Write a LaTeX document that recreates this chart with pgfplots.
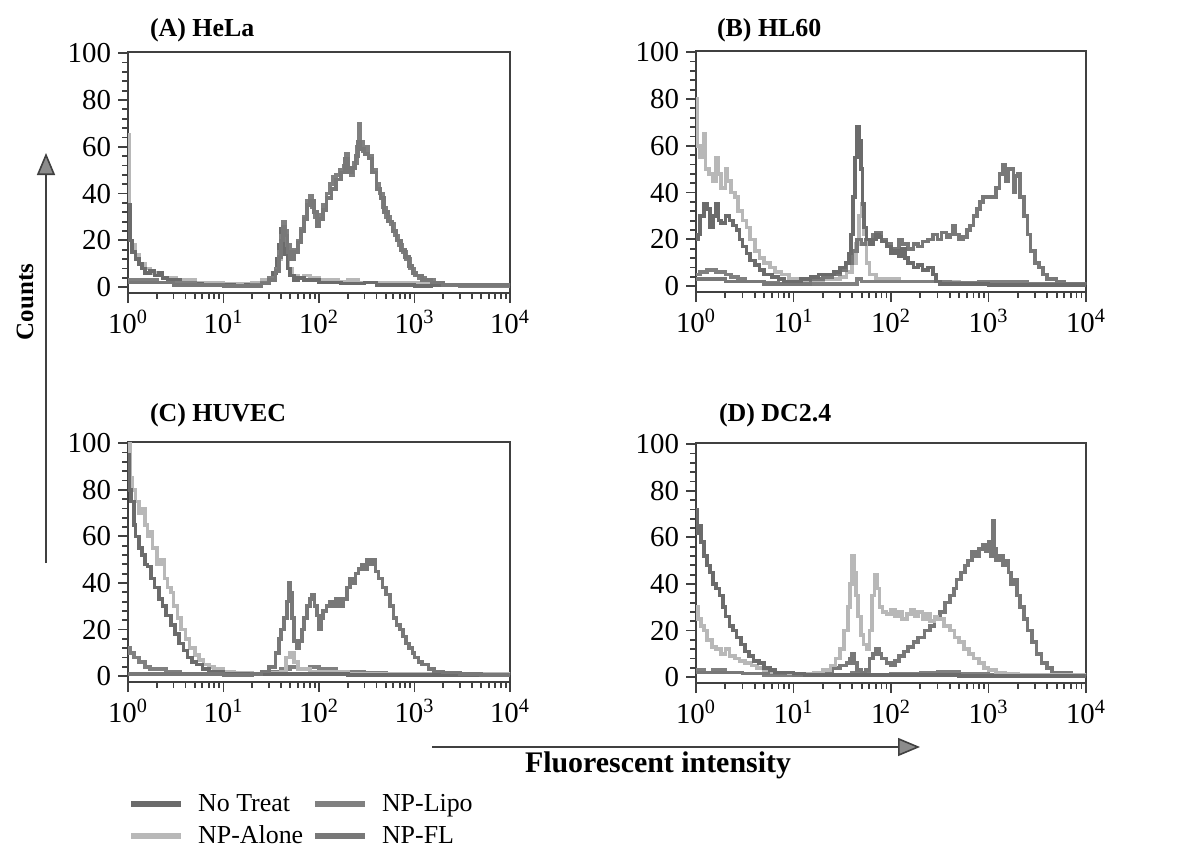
\documentclass[border=0pt]{standalone}
\usepackage{fontspec}
\setmainfont{Liberation Serif}
\usepackage{pgfplots}
\pgfplotsset{compat=1.18}
\usetikzlibrary{arrows.meta}

\definecolor{cNT}{gray}{0.42}
\definecolor{cAL}{gray}{0.72}
\definecolor{cLI}{gray}{0.50}
\definecolor{cFL}{gray}{0.47}
\definecolor{axc}{gray}{0.25}

\pgfplotsset{every axis/.append style={
    scale only axis,
    xmin=1, xmax=10000,
    ymin=-2.5, ymax=100.5,
    xtick={1,10,100,1000,10000},
    xticklabels={10\textsuperscript{0},10\textsuperscript{1},10\textsuperscript{2},10\textsuperscript{3},10\textsuperscript{4}},
    minor xtick={2,3,4,5,6,7,8,9,20,30,40,50,60,70,80,90,200,300,400,500,600,700,800,900,2000,3000,4000,5000,6000,7000,8000,9000},
    ytick={0,20,40,60,80,100},
    yticklabels={0,20,40,60,80,100},
    minor ytick={4,8,...,96},
    tick align=outside, xtick pos=bottom, ytick pos=left,
    major tick length=5bp, minor tick length=3bp,
    axis line style={axc, line width=1bp},
    tick style={axc, line width=0.9bp},
    tick label style={font=\fontsize{14.5}{14.5}\selectfont},
  },
  every axis plot/.append style={const plot, no marks, line width=1.8bp},
}

\begin{document}
\begin{tikzpicture}
\path[use as bounding box] (0,0) rectangle (591bp,-423bp);

% (A) HeLa
\begin{semilogxaxis}[width=191bp, height=120.5bp, at={(64bp,-146.5bp)}, anchor=south west]
\addplot[cAL] table[row sep=\\] {1 65\\ 1.03 20\\ 1.1 18\\ 1.2 14\\ 1.3 10\\ 1.5 8\\ 1.7 6\\ 2 5\\ 2.3 4\\ 2.7 4\\ 3.2 3\\ 4 3\\ 5 2\\ 7 2\\ 10 1.5\\ 15 1.5\\ 20 2\\ 25 3\\ 30 4\\ 35 8\\ 38 12\\ 40 18\\ 42 22\\ 45 16\\ 48 8\\ 52 5\\ 60 4\\ 70 5\\ 80 4\\ 100 3\\ 130 3\\ 160 2.5\\ 200 3\\ 260 2\\ 350 2\\ 500 2\\ 700 2\\ 1000 2\\ 1300 1.5\\ 2000 1\\ 4000 1\\ 10000 1\\};
\addplot[cNT] table[row sep=\\] {1 35\\ 1.05 20\\ 1.1 15\\ 1.2 12\\ 1.3 10\\ 1.4 8\\ 1.5 6\\ 1.7 7\\ 1.9 5\\ 2.1 6\\ 2.3 4\\ 2.6 3\\ 3 3\\ 3.5 2\\ 4 2\\ 5 1.5\\ 6 1\\ 8 1\\ 10 1\\ 13 0.5\\ 17 1\\ 20 1\\ 25 2\\ 30 3\\ 33 6\\ 36 12\\ 38 18\\ 40 25\\ 42 20\\ 44 14\\ 47 8\\ 50 5\\ 55 3\\ 60 4\\ 70 3\\ 80 3\\ 100 2\\ 130 2\\ 170 1.5\\ 250 1.5\\ 300 2\\ 400 1\\ 600 1\\ 1000 0.5\\ 1500 1\\ 3000 0.5\\ 10000 0.5\\};
\addplot[cLI] table[row sep=\\] {1 3\\ 2 2\\ 5 1\\ 10 0.5\\ 20 1\\ 25 2\\ 30 4\\ 35 8\\ 38 15\\ 40 22\\ 42 28\\ 44 24\\ 46 18\\ 50 14\\ 55 16\\ 60 20\\ 65 25\\ 70 30\\ 75 37\\ 80 39\\ 85 34\\ 90 30\\ 95 27\\ 100 31\\ 110 35\\ 120 40\\ 130 44\\ 140 47\\ 150 48\\ 165 50\\ 180 52\\ 190 57\\ 200 50\\ 215 48\\ 230 53\\ 250 60\\ 260 70\\ 270 62\\ 290 58\\ 310 60\\ 330 56\\ 360 50\\ 400 44\\ 430 40\\ 470 34\\ 500 30\\ 560 27\\ 620 22\\ 680 18\\ 750 15\\ 820 12\\ 900 8\\ 1000 5\\ 1100 4\\ 1300 3\\ 1600 2\\ 2000 1\\ 3000 0.5\\ 10000 0.5\\};
\addplot[cFL] table[row sep=\\] {1 2\\ 3 1\\ 10 0.5\\ 25 1.5\\ 30 3\\ 35 7\\ 38 13\\ 40 20\\ 42 26\\ 44 22\\ 47 15\\ 50 12\\ 55 15\\ 60 19\\ 65 24\\ 70 29\\ 75 35\\ 80 37\\ 88 32\\ 95 26\\ 100 29\\ 110 33\\ 120 38\\ 135 42\\ 150 46\\ 170 49\\ 185 55\\ 200 49\\ 220 51\\ 240 56\\ 255 62\\ 270 59\\ 300 57\\ 330 55\\ 360 49\\ 400 42\\ 440 38\\ 480 32\\ 530 28\\ 590 24\\ 650 20\\ 720 16\\ 800 13\\ 880 9\\ 950 6\\ 1050 5\\ 1200 3\\ 1500 2\\ 2000 1\\ 10000 0.5\\};
\end{semilogxaxis}

% (B) HL60
\begin{semilogxaxis}[width=195bp, height=120.5bp, at={(348bp,-146bp)}, anchor=south west]
\addplot[cAL] table[row sep=\\] {1 80\\ 1.03 60\\ 1.1 55\\ 1.2 65\\ 1.25 50\\ 1.35 48\\ 1.5 45\\ 1.6 55\\ 1.7 48\\ 1.8 42\\ 2 50\\ 2.1 45\\ 2.3 40\\ 2.5 38\\ 2.7 32\\ 3 28\\ 3.3 25\\ 3.6 20\\ 4 15\\ 4.5 12\\ 5 10\\ 5.7 8\\ 6.5 6\\ 7.5 5\\ 9 3\\ 11 2\\ 15 2\\ 20 3\\ 25 3\\ 30 4\\ 35 6\\ 40 10\\ 44 18\\ 47 30\\ 50 35\\ 53 22\\ 56 10\\ 60 5\\ 70 3\\ 90 3\\ 120 2\\ 200 2\\ 300 2\\ 500 1.5\\ 1000 2\\ 1500 1.5\\ 2000 1\\ 4000 1\\ 10000 0.5\\};
\addplot[cLI] table[row sep=\\] {1 5\\ 1.1 6\\ 1.3 7\\ 1.6 6\\ 2 5\\ 2.3 4\\ 2.7 3\\ 3.2 2\\ 4 2\\ 5 1.5\\ 7 1\\ 10 1\\ 20 1\\ 30 1\\ 45 3\\ 50 2\\ 70 2\\ 100 2\\ 200 2\\ 400 1.5\\ 800 2\\ 1500 2\\ 2500 1\\ 4000 1\\ 10000 0.5\\};
\addplot[cFL] table[row sep=\\] {1 3\\ 1.5 3\\ 2 2\\ 3 2\\ 5 1\\ 7 1\\ 10 1\\ 15 3\\ 20 4\\ 25 5\\ 30 7\\ 35 10\\ 40 15\\ 45 20\\ 50 18\\ 55 20\\ 60 18\\ 65 22\\ 70 23\\ 80 20\\ 90 18\\ 100 15\\ 110 16\\ 120 20\\ 130 18\\ 150 16\\ 170 18\\ 190 17\\ 210 19\\ 240 20\\ 270 22\\ 300 20\\ 330 23\\ 370 21\\ 400 22\\ 430 26\\ 460 22\\ 500 20\\ 550 21\\ 600 24\\ 650 26\\ 700 30\\ 760 33\\ 820 36\\ 880 38\\ 1000 38\\ 1200 42\\ 1300 48\\ 1400 52\\ 1500 45\\ 1600 50\\ 1800 40\\ 1900 47\\ 2000 48\\ 2100 38\\ 2300 30\\ 2500 22\\ 2700 15\\ 3000 10\\ 3300 8\\ 3600 5\\ 4000 3\\ 5000 2\\ 6000 1\\ 10000 0.5\\};
\addplot[cNT] table[row sep=\\] {1 20\\ 1.05 22\\ 1.1 30\\ 1.2 35\\ 1.3 33\\ 1.4 25\\ 1.5 30\\ 1.6 35\\ 1.7 28\\ 1.8 27\\ 2 30\\ 2.2 28\\ 2.4 26\\ 2.6 24\\ 2.8 20\\ 3 17\\ 3.3 14\\ 3.6 11\\ 4 9\\ 4.5 7\\ 5 5\\ 6 4\\ 7 3\\ 8 2\\ 10 2\\ 12 3\\ 15 4\\ 18 5\\ 22 5\\ 26 6\\ 30 8\\ 34 10\\ 37 14\\ 39 22\\ 41 38\\ 43 55\\ 45 68\\ 47 62\\ 49 50\\ 51 35\\ 53 25\\ 56 20\\ 60 18\\ 65 20\\ 70 22\\ 75 21\\ 80 19\\ 90 17\\ 100 14\\ 110 15\\ 120 13\\ 130 16\\ 140 12\\ 150 10\\ 170 8\\ 190 9\\ 210 7\\ 240 8\\ 270 5\\ 290 2\\ 320 1\\ 500 1\\ 1000 0.5\\ 10000 0.5\\};
\end{semilogxaxis}

% (C) HUVEC
\begin{semilogxaxis}[width=191bp, height=120bp, at={(64bp,-341bp)}, anchor=south west,
  legend columns=2,
  legend style={draw=none, fill=none, inner sep=0pt, at={(0,-0.44)}, anchor=north west,
    font=\fontsize{13}{13}\selectfont,
    /tikz/every even column/.append style={column sep=3bp},
    nodes={inner sep=1.5bp, text height=10bp, text depth=3bp}},
  legend cell align=left,
  legend image code/.code={\draw[#1, line width=3bp] (0bp,0bp) -- (25bp,0bp); \path (31bp,0bp);}]
\addplot[cLI, forget plot] table[row sep=\\] {1 12\\ 1.05 10\\ 1.15 8\\ 1.3 6\\ 1.5 4\\ 1.7 3\\ 2 3\\ 2.5 2\\ 3 2\\ 3.5 1\\ 5 1\\ 10 1\\ 20 1\\ 30 2\\ 40 3\\ 50 4\\ 60 3\\ 80 4\\ 100 3\\ 150 2\\ 200 2\\ 300 1.5\\ 500 1\\ 1000 1\\ 2000 0.5\\ 10000 0.5\\};
\addplot[cAL, forget plot] table[row sep=\\] {1 90\\ 1.03 100\\ 1.06 85\\ 1.1 80\\ 1.2 75\\ 1.3 70\\ 1.4 72\\ 1.5 65\\ 1.6 60\\ 1.7 62\\ 1.8 55\\ 2 48\\ 2.2 50\\ 2.4 42\\ 2.6 38\\ 2.8 36\\ 3 30\\ 3.3 25\\ 3.6 20\\ 4 16\\ 4.4 12\\ 5 9\\ 5.5 7\\ 6.2 5\\ 7 4\\ 8 3\\ 10 2\\ 13 1.5\\ 20 1\\ 30 1.5\\ 40 2\\ 45 8\\ 50 10\\ 55 6\\ 60 3\\ 80 2\\ 100 2\\ 200 1\\ 500 1\\ 1000 1\\ 10000 0.5\\};
\addplot[cNT, forget plot] table[row sep=\\] {1 95\\ 1.03 80\\ 1.08 75\\ 1.15 65\\ 1.2 60\\ 1.3 55\\ 1.4 52\\ 1.5 48\\ 1.6 47\\ 1.75 42\\ 1.9 38\\ 2.1 33\\ 2.3 30\\ 2.5 26\\ 2.8 22\\ 3.1 18\\ 3.4 14\\ 3.8 11\\ 4.2 8\\ 4.7 6\\ 5.2 5\\ 6 3\\ 7 2\\ 8 2\\ 10 1\\ 15 1\\ 20 1\\ 30 1\\ 40 1\\ 60 1\\ 100 1\\ 200 0.5\\ 10000 0.5\\};
\addplot[cFL, forget plot] table[row sep=\\] {1 1\\ 10 0.5\\ 20 1\\ 25 2\\ 30 4\\ 35 10\\ 38 16\\ 40 20\\ 43 25\\ 46 32\\ 48 40\\ 50 36\\ 52 25\\ 55 15\\ 58 12\\ 62 15\\ 66 20\\ 70 25\\ 75 30\\ 80 33\\ 85 35\\ 90 30\\ 95 26\\ 100 20\\ 105 25\\ 110 28\\ 120 30\\ 130 32\\ 140 30\\ 150 33\\ 165 30\\ 180 33\\ 195 38\\ 210 42\\ 225 40\\ 240 44\\ 260 46\\ 280 48\\ 300 46\\ 320 50\\ 340 48\\ 360 50\\ 390 45\\ 420 42\\ 460 38\\ 500 35\\ 550 30\\ 600 25\\ 650 22\\ 700 20\\ 760 17\\ 820 14\\ 880 12\\ 950 10\\ 1000 8\\ 1100 6\\ 1200 5\\ 1400 3\\ 1600 2\\ 2000 1.5\\ 3000 1\\ 5000 0.5\\ 10000 0.5\\};
\addlegendimage{cNT}\addlegendentry{No Treat}
\addlegendimage{cLI}\addlegendentry{NP-Lipo}
\addlegendimage{cAL}\addlegendentry{NP-Alone}
\addlegendimage{cFL}\addlegendentry{NP-FL}
\end{semilogxaxis}

% (D) DC2.4
\begin{semilogxaxis}[width=195bp, height=120bp, at={(348bp,-341.5bp)}, anchor=south west]
\addplot[cLI] table[row sep=\\] {1 3\\ 1.2 2\\ 1.5 3\\ 2 2\\ 3 1.5\\ 5 1\\ 10 1\\ 20 1\\ 40 2\\ 60 1\\ 100 1.5\\ 200 2\\ 300 2.5\\ 500 1.5\\ 1000 1\\ 2000 1\\ 5000 0.5\\ 10000 0.5\\};
\addplot[cFL] table[row sep=\\] {1 2\\ 2 2\\ 3 1.5\\ 10 1\\ 20 2\\ 25 4\\ 30 5\\ 35 6\\ 38 8\\ 40 10\\ 42 6\\ 45 3\\ 50 2\\ 55 3\\ 60 8\\ 65 10\\ 70 12\\ 75 10\\ 80 8\\ 90 6\\ 100 5\\ 110 7\\ 120 9\\ 135 11\\ 150 13\\ 170 15\\ 190 17\\ 220 20\\ 250 22\\ 280 25\\ 320 28\\ 360 32\\ 400 35\\ 440 38\\ 470 42\\ 520 45\\ 570 48\\ 620 50\\ 680 54\\ 740 52\\ 800 55\\ 870 57\\ 940 54\\ 1000 58\\ 1050 52\\ 1100 67\\ 1150 55\\ 1200 50\\ 1300 52\\ 1400 48\\ 1500 50\\ 1600 45\\ 1700 40\\ 1800 42\\ 1950 35\\ 2100 30\\ 2300 25\\ 2500 20\\ 2800 15\\ 3100 10\\ 3500 6\\ 4000 4\\ 4500 2\\ 5500 2\\ 7000 1\\ 10000 0.5\\};
\addplot[cAL] table[row sep=\\] {1 30\\ 1.05 25\\ 1.12 22\\ 1.2 20\\ 1.3 16\\ 1.45 13\\ 1.6 12\\ 1.8 10\\ 2 12\\ 2.2 9\\ 2.5 8\\ 2.8 7\\ 3.2 6\\ 3.7 5\\ 4.2 4\\ 5 3\\ 6 2\\ 7.5 2\\ 9 1.5\\ 12 1.5\\ 16 2\\ 20 3\\ 24 5\\ 27 8\\ 30 12\\ 33 20\\ 36 30\\ 38 40\\ 40 52\\ 42 45\\ 44 35\\ 46 26\\ 49 18\\ 52 14\\ 56 12\\ 60 20\\ 64 35\\ 68 44\\ 72 38\\ 76 30\\ 82 28\\ 90 27\\ 100 29\\ 110 26\\ 120 28\\ 130 25\\ 145 27\\ 160 29\\ 175 26\\ 190 28\\ 210 25\\ 230 27\\ 250 24\\ 280 26\\ 300 25\\ 350 22\\ 400 20\\ 450 17\\ 500 15\\ 560 12\\ 630 10\\ 700 8\\ 800 6\\ 900 4\\ 1000 3\\ 1200 2\\ 1500 1.5\\ 2000 1\\ 10000 0.5\\};
\addplot[cNT] table[row sep=\\] {1 72\\ 1.04 62\\ 1.08 65\\ 1.12 58\\ 1.2 52\\ 1.3 48\\ 1.4 45\\ 1.5 40\\ 1.6 38\\ 1.75 35\\ 1.9 30\\ 2 26\\ 2.2 22\\ 2.4 20\\ 2.6 17\\ 2.9 14\\ 3.2 11\\ 3.5 9\\ 3.9 7\\ 4.4 6\\ 5 4\\ 5.7 3\\ 6.5 2\\ 8 2\\ 10 1.5\\ 13 1\\ 20 1\\ 30 1\\ 50 1\\ 100 1\\ 200 1\\ 500 0.5\\ 10000 0.5\\};
\end{semilogxaxis}

% titles
\node[anchor=west, font=\bfseries\fontsize{13}{13}\selectfont] at (71.5bp,-15bp) {(A) HeLa};
\node[anchor=west, font=\bfseries\fontsize{13}{13}\selectfont] at (355bp,-15bp) {(B) HL60};
\node[anchor=west, font=\bfseries\fontsize{13}{13}\selectfont] at (71.5bp,-207.5bp) {(C) HUVEC};
\node[anchor=west, font=\bfseries\fontsize{13}{13}\selectfont] at (356bp,-207.5bp) {(D) DC2.4};

% axis arrows and labels
\draw[axc, line width=0.8bp, -{Triangle[width=9bp, length=11bp, fill=black!45]}] (23bp,-281.5bp) -- (23bp,-76.5bp);
\node[rotate=90, font=\bfseries\fontsize{12.5}{12.5}\selectfont] at (12.5bp,-151bp) {Counts};
\draw[axc, line width=0.8bp, -{Triangle[width=9bp, length=11bp, fill=black!45]}] (216bp,-373.5bp) -- (460bp,-373.5bp);
\node[font=\bfseries\fontsize{15}{15}\selectfont] at (329bp,-382.5bp) {Fluorescent intensity};
\end{tikzpicture}
\end{document}
